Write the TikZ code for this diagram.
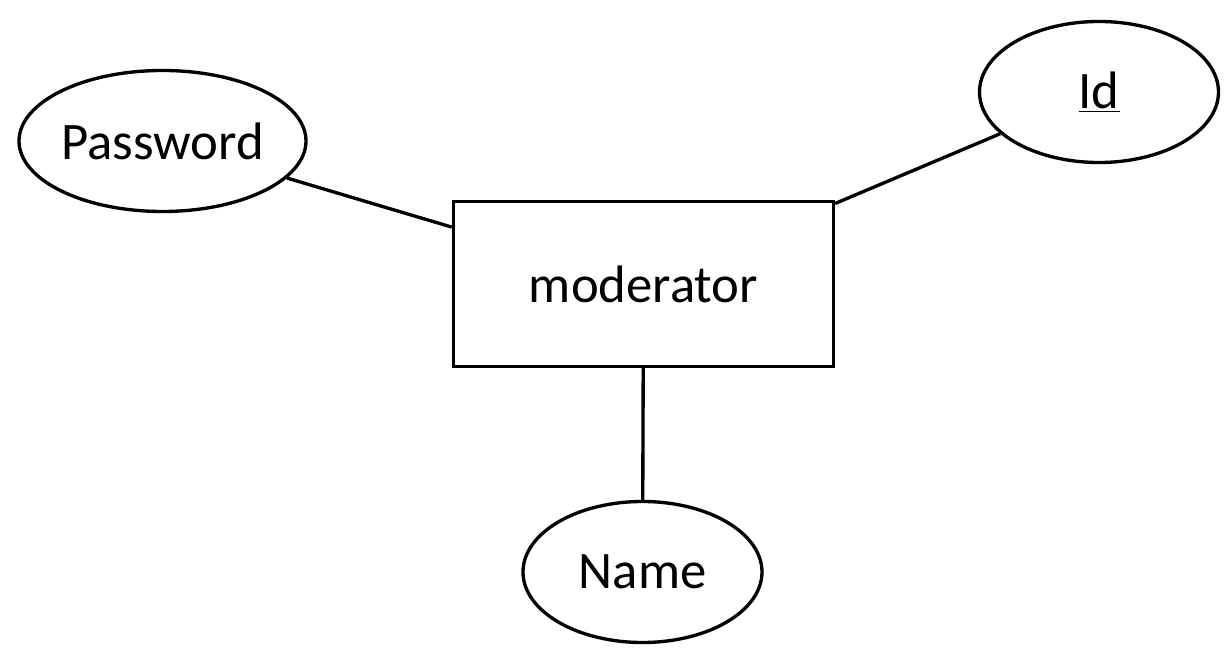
\documentclass[tikz,border=0pt]{standalone}
\usepackage{fontspec}
\setmainfont{Carlito}
\usetikzlibrary{shapes.geometric}

\begin{document}
\begin{tikzpicture}[
  entity/.style={
    draw, rectangle, line width=1.9pt,
    minimum width=7.6cm, minimum height=3.3cm,
    font=\fontsize{30}{36}\selectfont, text centered
  },
  attrib/.style={
    draw, ellipse, line width=1.9pt, inner sep=0pt,
    minimum width=4.78cm, minimum height=2.82cm,
    font=\fontsize{30}{36}\selectfont, text centered
  },
  link/.style={line width=1.9pt},
]
\useasboundingbox (0,0) rectangle (24.62,13.1);

%% ── Entity ───────────────────────────────────────────────────────────────────
\node[entity] (moderator) at (12.87, 7.42) {moderator};

%% ── Attributes ───────────────────────────────────────────────────────────────
\node[attrib, minimum width=5.74cm] (password) at (3.25, 10.28) {Password};
\node[attrib] (id)       at (21.98, 11.26) {\underline{Id}};
\node[attrib] (name)     at (12.85,  1.66) {Name};

%% ── Edges ───────────────────────────────────────────────────────────────────
\draw[link] (password) -- (moderator);
\draw[link] (id)       -- (moderator);
\draw[link] (name)     -- (moderator);

\end{tikzpicture}
\end{document}
